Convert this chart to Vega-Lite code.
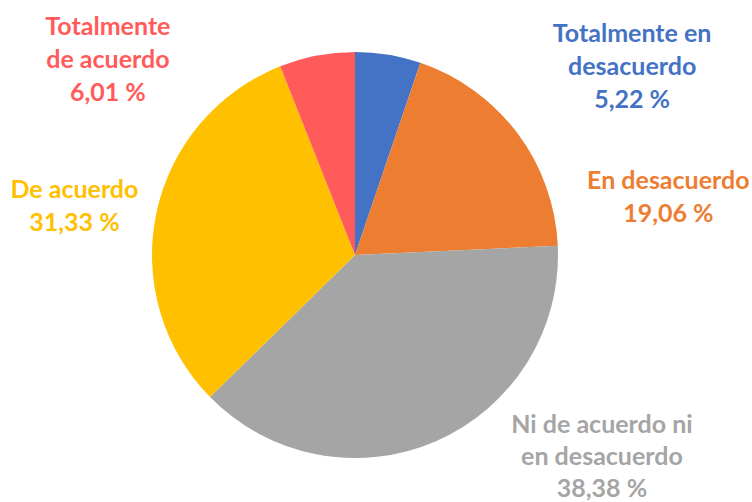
{
  "$schema": "https://vega.github.io/schema/vega-lite/v6.json",
  "width": 710,
  "height": 494,
  "autosize": {"type": "none"},
  "padding": {"left": 0, "top": 8, "right": 42, "bottom": 0},
  "background": "white",
  "config": {"view": {"stroke": null}},
  "data": {
    "values": [
      {"categoria": "Totalmente en desacuerdo", "orden": 1, "porcentaje": 5.22, "etiqueta": "Totalmente en\ndesacuerdo\n5,22 %"},
      {"categoria": "En desacuerdo", "orden": 2, "porcentaje": 19.06, "etiqueta": "En desacuerdo\n19,06 %"},
      {"categoria": "Ni de acuerdo ni en desacuerdo", "orden": 3, "porcentaje": 38.38, "etiqueta": "Ni de acuerdo ni\nen desacuerdo\n38,38 %"},
      {"categoria": "De acuerdo", "orden": 4, "porcentaje": 31.33, "etiqueta": "De acuerdo\n31,33 %"},
      {"categoria": "Totalmente de acuerdo", "orden": 5, "porcentaje": 6.01, "etiqueta": "Totalmente\nde acuerdo\n6,01 %"}
    ]
  },
  "encoding": {
    "theta": {"field": "porcentaje", "type": "quantitative", "stack": true},
    "order": {"field": "orden", "type": "quantitative", "sort": "ascending"},
    "color": {
      "field": "categoria",
      "type": "nominal",
      "scale": {
        "domain": ["Totalmente en desacuerdo", "En desacuerdo", "Ni de acuerdo ni en desacuerdo", "De acuerdo", "Totalmente de acuerdo"],
        "range": ["#4472C4", "#ED7D31", "#A5A5A5", "#FFC000", "#FF5B5B"]
      },
      "legend": null
    }
  },
  "layer": [
    {"mark": {"type": "arc", "outerRadius": 203}},
    {
      "mark": {"type": "text", "radius": 203, "dx": 244, "dy": -21, "font": "Lato", "fontWeight": "bold", "fontSize": 25, "lineBreak": "\n", "lineHeight": 33, "align": "center", "baseline": "middle"},
      "encoding": {"text": {"condition": {"test": "datum.orden === 1", "field": "etiqueta", "type": "nominal"}, "value": ""}}
    },
    {
      "mark": {"type": "text", "radius": 203, "dx": 151, "dy": 48, "font": "Lato", "fontWeight": "bold", "fontSize": 25, "lineBreak": "\n", "lineHeight": 33, "align": "center", "baseline": "middle"},
      "encoding": {"text": {"condition": {"test": "datum.orden === 2", "field": "etiqueta", "type": "nominal"}, "value": ""}}
    },
    {
      "mark": {"type": "text", "radius": 203, "dx": 166, "dy": -16, "font": "Lato", "fontWeight": "bold", "fontSize": 25, "lineBreak": "\n", "lineHeight": 32, "align": "center", "baseline": "middle"},
      "encoding": {"text": {"condition": {"test": "datum.orden === 3", "field": "etiqueta", "type": "nominal"}, "value": ""}}
    },
    {
      "mark": {"type": "text", "radius": 203, "dx": -82, "dy": -23, "font": "Lato", "fontWeight": "bold", "fontSize": 25, "lineBreak": "\n", "lineHeight": 33, "align": "center", "baseline": "middle"},
      "encoding": {"text": {"condition": {"test": "datum.orden === 4", "field": "etiqueta", "type": "nominal"}, "value": ""}}
    },
    {
      "mark": {"type": "text", "radius": 203, "dx": -209, "dy": -29, "font": "Lato", "fontWeight": "bold", "fontSize": 25, "lineBreak": "\n", "lineHeight": 33, "align": "center", "baseline": "middle"},
      "encoding": {"text": {"condition": {"test": "datum.orden === 5", "field": "etiqueta", "type": "nominal"}, "value": ""}}
    }
  ]
}
